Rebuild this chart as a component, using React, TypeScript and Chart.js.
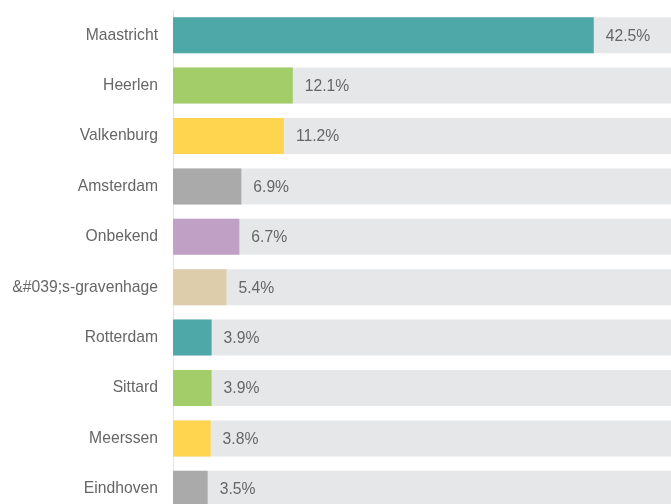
import React, { useEffect, useRef } from "react";
import { Chart, registerables } from "chart.js";

Chart.register(...registerables);

const categories = [
  "Maastricht",
  "Heerlen",
  "Valkenburg",
  "Amsterdam",
  "Onbekend",
  "&#039;s-gravenhage",
  "Rotterdam",
  "Sittard",
  "Meerssen",
  "Eindhoven",
];
const values = [42.5, 12.1, 11.2, 6.9, 6.7, 5.4, 3.9, 3.9, 3.8, 3.5];
const colors = [
  "#4ea8a7",
  "#a2cd68",
  "#ffd54f",
  "#aaaaaa",
  "#c0a0c4",
  "#decdab",
  "#4ea8a7",
  "#a2cd68",
  "#ffd54f",
  "#aaaaaa",
];
const axisMax = 50.3;
const backgroundValues = categories.map(() => axisMax);

const FONT = "'Liberation Sans', Arial, sans-serif";

const valueLabels = {
  id: "valueLabels",
  afterDatasetsDraw(chart: any) {
    const ctx = chart.ctx;
    const meta = chart.getDatasetMeta(0);
    ctx.save();
    ctx.font = `15.7px ${FONT}`;
    ctx.fillStyle = "#666666";
    ctx.textAlign = "left";
    ctx.textBaseline = "middle";
    meta.data.forEach((bar: any, i: number) => {
      ctx.fillText(values[i].toFixed(1) + "%", bar.x + 12, bar.y + 1);
    });
    ctx.restore();
  },
};

export default function App() {
  const ref = useRef<HTMLCanvasElement>(null);
  useEffect(() => {
    if (!ref.current) return;
    const chart = new Chart(ref.current, {
      type: "bar",
      data: {
        labels: categories,
        datasets: [
          {
            data: values,
            backgroundColor: colors,
            grouped: false,
            barPercentage: 0.714,
            categoryPercentage: 1,
          } as any,
          {
            data: backgroundValues,
            backgroundColor: "#e6e7e9",
            grouped: false,
            barPercentage: 0.714,
            categoryPercentage: 1,
          } as any,
        ],
      },
      options: {
        indexAxis: "y",
        animation: false,
        responsive: true,
        maintainAspectRatio: false,
        layout: { padding: { top: 10, left: 0, right: 0, bottom: 0 } },
        plugins: { legend: { display: false }, tooltip: { enabled: false } },
        scales: {
          x: { display: false, min: 0, max: axisMax },
          y: {
            afterFit: (scale: any) => {
              scale.width = 173;
              scale.paddingTop = 0;
              scale.paddingBottom = 0;
            },
            grid: { display: false, drawTicks: false },
            border: { display: true, color: "#e4e4e4", width: 1 },
            ticks: {
              padding: 15,
              color: "#666666",
              font: { family: FONT, size: 15.7 },
            },
          },
        },
      },
      plugins: [valueLabels],
    });
    return () => chart.destroy();
  }, []);
  return (
    <div
      style={{
        position: "absolute",
        left: 0,
        top: 0,
        width: 671,
        height: 504,
        overflow: "hidden",
        background: "#fff",
      }}
    >
      <div style={{ position: "relative", width: 671, height: 514 }}>
        <canvas ref={ref} />
      </div>
    </div>
  );
}
